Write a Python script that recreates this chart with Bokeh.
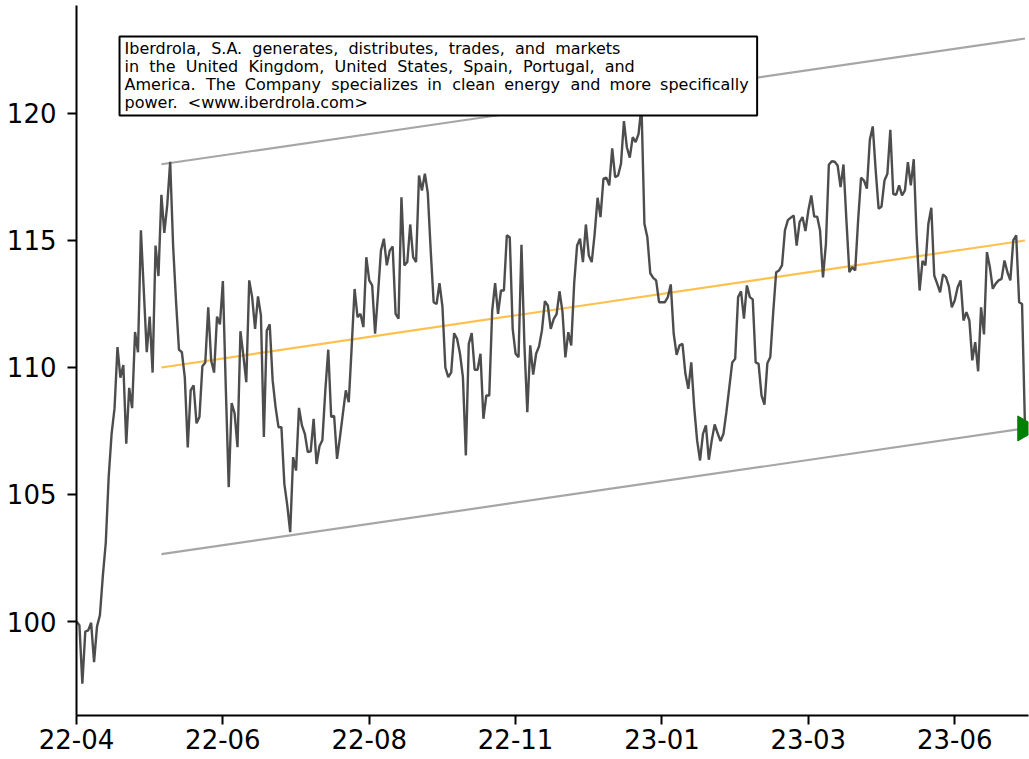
import math
from bokeh.plotting import figure
from bokeh.models import Range1d, FixedTicker, BoxAnnotation, Label
from bokeh.embed import file_html
from bokeh.resources import INLINE

# ---- data -------------------------------------------------------------
price = [
    100.0, 99.85, 97.55, 99.6, 99.65, 99.95, 98.4, 99.8, 100.25, 101.8,
    103.1, 105.7, 107.4, 108.4, 110.8, 109.6, 110.1, 107.0, 109.2, 108.4,
    111.4, 110.6, 115.4, 113.0, 110.6, 112.0, 109.8, 114.8, 113.6, 116.8,
    115.3, 116.4, 118.1, 114.8, 112.6, 110.7, 110.6, 109.6, 106.85, 109.1,
    109.3, 107.8, 108.05, 110.05, 110.2, 112.37, 110.28, 109.8, 112.0, 111.7,
    113.4, 109.2, 105.29, 108.6, 108.2, 106.86, 111.43, 110.47, 109.42, 113.43,
    112.77, 111.52, 112.8, 112.05, 107.26, 111.46, 111.7, 109.5, 108.44, 107.65,
    107.65, 105.42, 104.57, 103.52, 106.47, 105.94, 108.41, 107.72, 107.39, 106.67,
    106.7, 107.98, 106.2, 106.9, 107.15, 109.1, 110.7, 108.05, 108.1, 106.4,
    107.26, 108.18, 109.1, 108.63, 110.8, 113.09, 111.98, 112.11, 111.59, 114.34,
    113.43, 113.23, 111.33, 112.9, 114.6, 115.07, 114.02, 114.6, 114.76, 112.11,
    111.92, 116.7, 114.02, 114.15, 115.63, 114.34, 114.15, 117.56, 116.97, 117.63,
    116.87, 114.6, 112.57, 112.5, 113.32, 112.4, 110.0, 109.62, 109.81, 111.35,
    111.13, 110.54, 109.62, 106.54, 110.93, 111.35, 109.91, 109.91, 110.54, 107.98,
    108.9, 108.9, 112.24, 113.32, 112.11, 113.03, 113.03, 115.2, 115.13, 111.52,
    110.54, 110.4, 114.83, 110.9, 108.24, 110.87, 109.72, 110.54, 110.83, 111.46,
    112.61, 112.44, 111.52, 111.9, 112.1, 113.0, 112.2, 110.4, 111.39, 110.87,
    113.3, 114.8, 115.07, 114.15, 115.63, 114.41, 114.15, 115.26, 116.68, 115.92,
    117.43, 117.47, 117.17, 118.63, 117.49, 117.56, 118.02, 119.7, 118.67, 118.26,
    119.07, 118.87, 119.2, 120.3, 115.66, 115.13, 113.71, 113.53, 113.43, 112.57,
    112.57, 112.57, 112.77, 113.27, 111.33, 110.5, 110.87, 110.93, 109.75, 109.16,
    110.2, 108.44, 107.13, 106.34, 107.39, 107.72, 106.37, 107.13, 107.76, 107.41,
    107.1, 107.39, 108.24, 109.22, 110.2, 110.34, 112.77, 113.0, 111.92, 113.23,
    112.77, 112.68, 110.2, 110.14, 108.9, 108.54, 110.17, 110.41, 112.18, 113.75,
    113.82, 114.02, 115.4, 115.8, 115.9, 115.98, 114.8, 115.72, 115.92, 115.37,
    116.18, 116.77, 115.94, 115.94, 115.39, 113.55, 114.87, 117.98, 118.12, 118.1,
    117.95, 117.1, 117.99, 115.79, 113.75, 113.95, 113.82, 115.79, 117.47, 117.36,
    117.04, 118.96, 119.49, 117.76, 116.25, 116.34, 117.36, 117.63, 119.36, 116.83,
    116.8, 117.17, 116.77, 116.97, 118.08, 117.17, 118.2, 115.13, 113.03, 114.2,
    114.02, 115.66, 116.29, 113.62, 113.3, 112.96, 113.66, 113.56, 113.19, 112.37,
    112.64, 113.16, 113.43, 111.85, 112.18, 111.85, 110.28, 111.0, 109.85, 112.37,
    111.3, 114.54, 113.95, 113.1, 113.3, 113.43, 113.49, 114.21, 113.75, 113.43,
    115.0, 115.2, 112.57, 112.5, 107.65,
]
day_index = list(range(len(price)))

tick_positions = [0, 50, 100, 150, 200, 250, 300]
tick_labels = ["22-04", "22-06", "22-08", "22-11", "23-01", "23-03", "23-06"]
y_ticks = [100, 105, 110, 115, 120]

channel_x = [29, len(price) - 1]
channel_mid = [110.0, 115.0]
channel_upper = [118.0, 122.95]
channel_lower = [102.65, 107.6]

note_lines = [
    "Iberdrola,\u00a0 S.A.\u00a0 generates,\u00a0 distributes,\u00a0 trades,\u00a0 and\u00a0 markets",
    "in\u00a0 the\u00a0 United\u00a0 Kingdom,\u00a0 United\u00a0 States,\u00a0 Spain,\u00a0 Portugal,\u00a0 and",
    "America.\u2004 The\u2005 Company\u2004 specializes\u2005 in\u2004 clean\u2005 energy\u2004 and\u2005 more\u2005 specifically",
    "power.\u00a0 <www.iberdrola.com>",
]
note_baselines = [122.56, 121.85, 121.14, 120.43]

# ---- figure -----------------------------------------------------------
p = figure(width=1029, height=759, output_backend="svg", toolbar_location=None,
           x_range=Range1d(0, 325.2), y_range=Range1d(96.3, 124.25),
           min_border_left=76, min_border_right=1, min_border_top=5,
           min_border_bottom=44)
p.outline_line_color = None
p.grid.visible = False
p.background_fill_color = "white"
p.border_fill_color = "white"

for ax in (p.xaxis[0], p.yaxis[0]):
    ax.axis_line_color = "black"
    ax.axis_line_width = 2
    ax.major_tick_line_color = "black"
    ax.major_tick_line_width = 2
    ax.major_tick_out = 9
    ax.major_tick_in = 0
    ax.minor_tick_out = 0
    ax.minor_tick_in = 0
    ax.major_label_text_font = "DejaVu Sans"
    ax.major_label_text_font_size = "26px"
    ax.major_label_text_color = "black"

p.xaxis.ticker = FixedTicker(ticks=tick_positions)
p.xaxis.major_label_overrides = {t: l for t, l in zip(tick_positions, tick_labels)}
p.xaxis.major_label_standoff = 4
p.yaxis.ticker = FixedTicker(ticks=y_ticks)
p.yaxis.major_label_standoff = 11

# channel
p.line(channel_x, channel_upper, line_color="#a6a6a6", line_width=2.2)
p.line(channel_x, channel_lower, line_color="#a6a6a6", line_width=2.2)
p.line(channel_x, channel_mid, line_color="#ffc04d", line_width=2.2)

# price
p.line(day_index, price, line_color="#4d4d4d", line_width=2.4)

# end marker
p.scatter([day_index[-1]], [channel_lower[-1]], marker="triangle", angle=-math.pi / 2,
          size=25, fill_color="green", line_color="green")

# note box
box = BoxAnnotation(left=14.7, right=232.5, bottom=119.92, top=123.03,
                    fill_color="white", fill_alpha=1.0,
                    line_color="black", line_width=2, line_alpha=1.0)
p.add_layout(box)
for txt, yb in zip(note_lines, note_baselines):
    p.add_layout(Label(x=16.4, y=yb, text=txt, text_font="DejaVu Sans",
                       text_font_size="16px", text_color="black",
                       text_baseline="alphabetic"))

open("out.html", "w").write(file_html(p, INLINE))
